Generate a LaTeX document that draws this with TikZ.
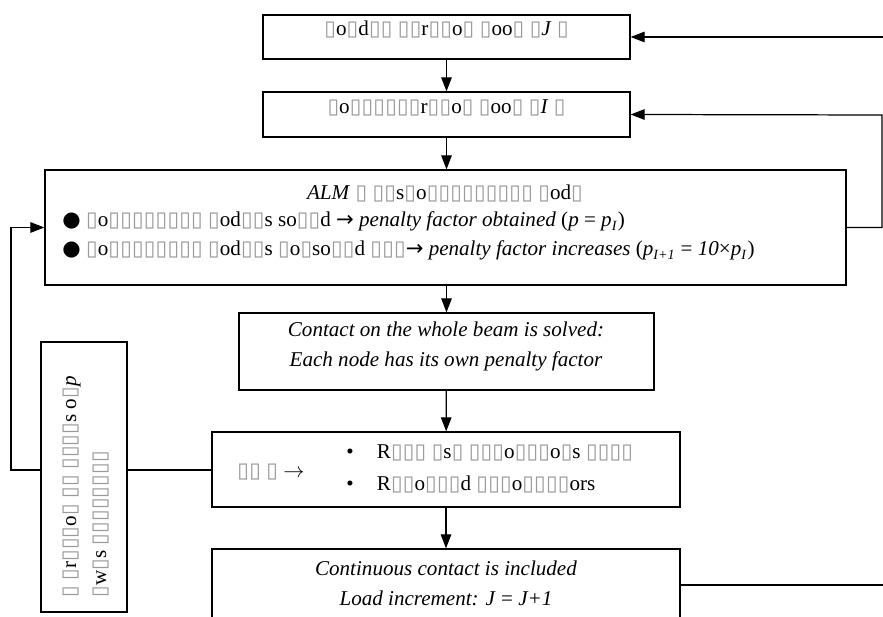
\documentclass[tikz,border=0pt]{standalone}
\usepackage{fontspec}
\setmainfont{Liberation Serif}
\newfontfamily\dejavu{DejaVu Sans}
\usetikzlibrary{arrows.meta,fit}

% missing glyph, bullet and arrow as printed
\newcommand{\mg}{\makebox[0.56em]{\color{black!40}\dejavu ▯}}
\newcommand{\bul}{{\dejavu ●}}
\newcommand{\rarr}{{\dejavu →}}

\tikzset{
  blk/.style={draw, line width=0.7pt, inner sep=0pt, align=center},
  txt/.style={inner sep=0pt},
  flow/.style={line width=0.7pt, -{Triangle[length=8pt,width=6pt]}},
  link/.style={line width=0.7pt},
}

\begin{document}
\begin{tikzpicture}[x=0.02cm, y=-0.02cm, font=\fontsize{12}{17}\selectfont]
    \useasboundingbox (0,0) rectangle (883,617);
    \clip (0,0) rectangle (883,617);

    % Load loop and contact loop
    \node[blk, fit={(263,15) (630,59)}] (loadloop)
        {\mg o\mg d\mg\mg\ \mg\mg r\mg\mg o\mg\ \mg oo\mg\ \mg\textit{J} \mg};
    \node[blk, fit={(263,92) (630,137)}] (contloop)
        {\mg o\mg\mg\mg\mg\mg\mg r\mg\mg o\mg\ \mg oo\mg\ \mg\textit{I} \mg};

    % ALM
    \node[blk, fit={(45,170) (846,285)}] (alm) {};
    \node[txt, anchor=base] (almtitle) at (445,200)
        {\textit{ALM} \mg\ \mg\mg s\mg o\mg\mg\mg\mg\mg\mg\mg\mg\mg\ \mg od\mg};
    \node[txt, anchor=base west] (almone) at (62,227)
        {\bul\ \mg o\mg\mg\mg\mg\mg\mg\mg\mg\ \mg od\mg\mg s so\mg\mg d \rarr\
         \textit{penalty factor obtained} (\textit{p} = \textit{p}\textsubscript{\textit{I}})};
    \node[txt, anchor=base west] (almtwo) at (62,256)
        {\bul\ \mg o\mg\mg\mg\mg\mg\mg\mg\mg\ \mg od\mg\mg s \mg o\mg so\mg\mg d \mg\mg\mg\rarr\
         \textit{penalty factor increases} (\textit{p}\textsubscript{\textit{I+1}} = \textit{10}×\textit{p}\textsubscript{\textit{I}})};

    % whole beam
    \node[blk, fit={(239,313) (654,390)}] (beam) {};
    \node[txt, anchor=base] (beamone) at (446,337)
        {\textit{Contact on the whole beam is solved:}};
    \node[txt, anchor=base] (beamtwo) at (446,367)
        {\textit{Each node has its own penalty factor}};

    % update step
    \node[blk, fit={(212,432) (680,507)}] (refine) {};
    \node[txt, anchor=base west] (refhead) at (237,478) {\mg\mg\ \mg\ $\rightarrow$};
    \node[txt, anchor=base west] (refone) at (346,459)
        {•\hspace{1.1em}R\mg\mg\mg\ \mg s\mg\ \mg\mg\mg o\mg\mg\mg o\mg s \mg\mg\mg\mg};
    \node[txt, anchor=base west] (reftwo) at (346,491)
        {•\hspace{1.1em}R\mg\mg o\mg\mg\mg d \mg\mg\mg o\mg\mg\mg\mg ors};

    % next increment
    \node[blk, fit={(212,549) (680,621)}] (incr) {};
    \node[txt, anchor=base] (incrone) at (446,576)
        {\textit{Continuous contact is included}};
    \node[txt, anchor=base] (incrtwo) at (446,606)
        {\textit{Load increment: J} = \textit{J+1}};

    % side note
    \node[blk, fit={(41,342) (127,612)}] (note) {};
    \node[txt, rotate=90, anchor=base west, align=left] (notetext) at (106,598)
        {\mg\ \mg r\mg\mg\mg o\mg\ \mg\mg\ \mg\mg\mg\mg s o\mg\textit{p}\\
         \mg w\mg s \mg\mg\mg\mg\mg\mg\mg\mg};

    % connectors
    \coordinate (rmid) at (882,115);
    \coordinate (rfar) at (900,37);
    \coordinate (lfar) at (11,470);
    \draw[flow] (loadloop) -- (contloop);
    \draw[flow] (contloop.south) -- (contloop.south |- alm.north);
    \draw[flow] (alm.south -| beam.north) -- (beam);
    \draw[flow] (beam) -- (refine);
    \draw[flow] (refine) -- (incr);
    \draw[flow] (alm.east) -| (rmid) -- (contloop.east);
    \draw[flow] (incr.east) -| (rfar) -- (loadloop.east);
    \draw[link] (refine.west |- lfar) -- (note.east |- lfar);
    \draw[flow] (note.west |- lfar) -- (lfar) |- (alm.west);
\end{tikzpicture}
\end{document}
